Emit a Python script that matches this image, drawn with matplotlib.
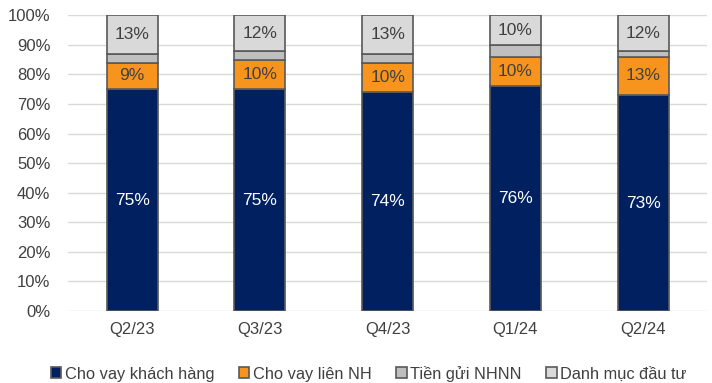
import numpy as np
import matplotlib.pyplot as plt

plt.rcParams['font.family'] = ['Liberation Sans', 'DejaVu Sans']

quarters = ['Q2/23', 'Q3/23', 'Q4/23', 'Q1/24', 'Q2/24']
cho_vay_kh = [75, 75, 74, 76, 73]
cho_vay_nh = [9, 10, 10, 10, 13]
tien_gui_nhnn = [3, 3, 3, 4, 2]
danh_muc_dt = [13, 12, 13, 10, 12]

series = [
    ('Cho vay khách hàng', cho_vay_kh, '#002060', 'white', True),
    ('Cho vay liên NH', cho_vay_nh, '#F7941D', '#404040', True),
    ('Tiền gửi NHNN', tien_gui_nhnn, '#BFBFBF', '#404040', False),
    ('Danh mục đầu tư', danh_muc_dt, '#D9D9D9', '#404040', True),
]

fig, ax = plt.subplots(figsize=(7.12, 3.83), dpi=100)
fig.subplots_adjust(left=0.096, right=0.993, top=0.96, bottom=0.188)

x = np.arange(len(quarters))
bottom = np.zeros(len(quarters))
for name, vals, color, tcolor, show in series:
    vals = np.array(vals, dtype=float)
    ax.bar(x, vals, 0.4, bottom=bottom, color=color, edgecolor='#595959',
           linewidth=1.2, label=name, zorder=3)
    if show:
        for xi, b, v in zip(x, bottom, vals):
            ax.text(xi, b + v / 2, f'{int(v)}%', ha='center', va='center',
                    color=tcolor, fontsize=12.5, zorder=4)
    bottom += vals

ax.set_xlim(-0.5, len(quarters) - 0.5)
ax.set_ylim(0, 100)
ax.set_yticks(np.arange(0, 101, 10))
ax.set_yticklabels([f'{t}%' for t in range(0, 101, 10)])
ax.set_xticks(x)
ax.set_xticklabels(quarters)
ax.tick_params(axis='both', length=0, labelsize=12, colors='#404040')
ax.tick_params(axis='y', pad=13)
ax.tick_params(axis='x', pad=8)
ax.grid(axis='y', color='#D9D9D9', linewidth=1, zorder=0)
for s in ax.spines.values():
    s.set_visible(False)

ax.legend(loc='upper center', bbox_to_anchor=(0.47, -0.135), ncol=4, frameon=False,
          fontsize=11.8, handlelength=0.65, handleheight=0.65, handletextpad=0.2,
          columnspacing=1.5, labelcolor='#404040')

plt.savefig('out.png', dpi=100)
